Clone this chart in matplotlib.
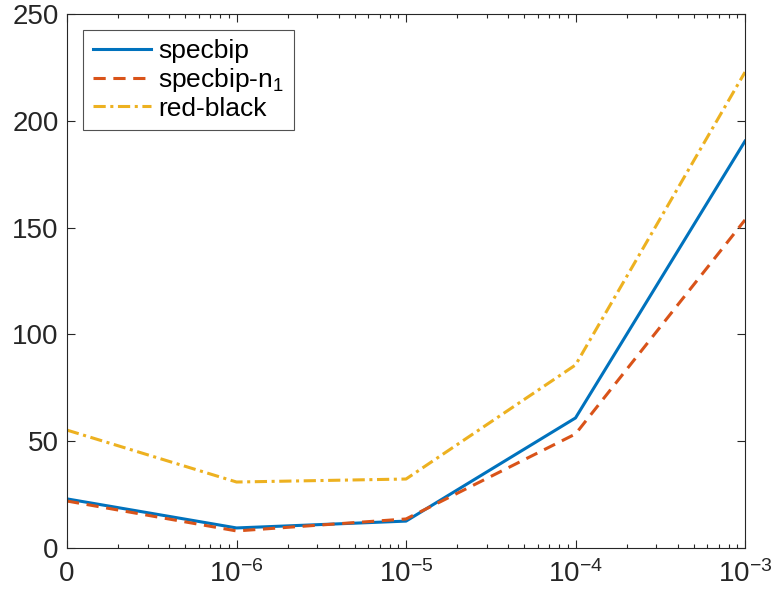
import numpy as np
import matplotlib
matplotlib.use('Agg')
import matplotlib.pyplot as plt

# x positions: leftmost point labelled "0" sits at 1e-7 on the log axis
x = [1e-7, 1e-6, 1e-5, 1e-4, 1e-3]
xlabels = ['0', r'$10^{-6}$', r'$10^{-5}$', r'$10^{-4}$', r'$10^{-3}$']

specbip = [23, 9.4, 12.6, 60.9, 190.5]
specbip_n1 = [22, 8, 13.6, 53.4, 153.6]
red_black = [55.2, 30.9, 32.3, 85.7, 222.8]

plt.rcParams['font.family'] = ['Liberation Sans', 'DejaVu Sans']
plt.rcParams['mathtext.fontset'] = 'custom'
plt.rcParams['mathtext.rm'] = 'Liberation Sans'
plt.rcParams['mathtext.it'] = 'Liberation Sans'
plt.rcParams['mathtext.default'] = 'regular'

dark = '#262626'

fig = plt.figure(figsize=(7.73, 5.96), dpi=100)
ax = fig.add_axes([0.0867, 0.0805, 0.8771, 0.896])

ax.plot(x, specbip, color='#0072BD', lw=2.2, label='specbip')
ax.plot(x, specbip_n1, color='#D95319', lw=2.2, ls=(0, (4, 2.5)), label='specbip-n$_1$')
ax.plot(x, red_black, color='#EDB120', lw=2.2, ls=(0, (4, 1.5, 1, 1.5)), label='red-black')

ax.set_xscale('log')
ax.set_xlim(1e-7, 1e-3)
ax.set_ylim(0, 250)
ax.set_xticks(x)
ax.set_xticklabels(xlabels)
ax.set_yticks([0, 50, 100, 150, 200, 250])

ax.tick_params(which='both', direction='in', top=True, right=True, colors=dark,
               labelsize=20, width=0.8)
ax.tick_params(which='major', length=6)
ax.tick_params(axis='x', which='major', pad=9)
ax.tick_params(axis='y', which='major', pad=6)
ax.tick_params(which='minor', length=3)
for s in ax.spines.values():
    s.set_color(dark)
    s.set_linewidth(0.8)

leg = ax.legend(loc='upper left', fontsize=19, handlelength=2.2, handletextpad=0.3,
                borderpad=0.35, labelspacing=0.1, fancybox=False,
                borderaxespad=0, bbox_to_anchor=(0.024, 0.97))
leg.get_frame().set_edgecolor(dark)
leg.get_frame().set_linewidth(0.8)

fig.savefig('out.png', dpi=100)
